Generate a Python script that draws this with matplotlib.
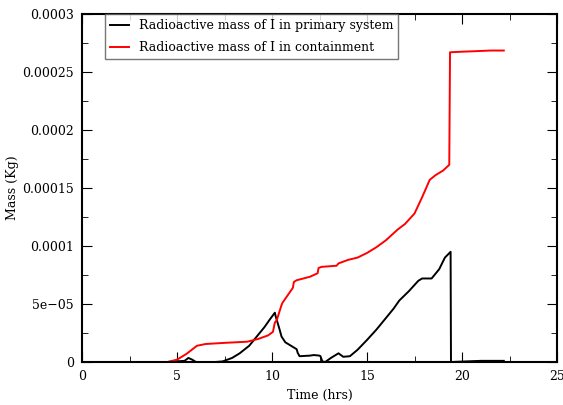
import numpy as np
import matplotlib
matplotlib.use('Agg')
import matplotlib.pyplot as plt
from matplotlib.ticker import MultipleLocator, FixedFormatter, FixedLocator

# Radioactive iodine mass in the primary system (hrs, kg)
t_primary = [0.0, 4.5, 5.4, 5.6, 5.8, 6.0, 7.0, 7.4, 7.9, 8.3, 8.8, 9.2, 9.6, 9.9,
             10.15, 10.2, 10.3, 10.4, 10.5, 10.7, 10.95, 11.3, 11.35, 11.45, 12.0,
             12.2, 12.5, 12.55, 12.65, 12.8, 13.1, 13.5, 13.75, 14.1, 14.5, 15.0,
             15.5, 16.0, 16.4, 16.7, 17.2, 17.7, 17.9, 18.4, 18.8, 19.1, 19.4,
             19.42, 20.2, 21.0, 22.2]
m_primary = [0.0, 0.0, 0.1e-5, 0.35e-5, 0.2e-5, 0.0, 0.0, 0.05e-5, 0.35e-5, 0.75e-5,
             1.4e-5, 2.2e-5, 3.0e-5, 3.7e-5, 4.25e-5, 3.9e-5, 3.35e-5, 2.8e-5, 2.2e-5,
             1.7e-5, 1.45e-5, 1.1e-5, 0.8e-5, 0.5e-5, 0.55e-5, 0.6e-5, 0.55e-5,
             0.5e-5, 0.05e-5, 0.0, 0.35e-5, 0.75e-5, 0.45e-5, 0.5e-5, 1.05e-5, 1.9e-5,
             2.8e-5, 3.8e-5, 4.6e-5, 5.3e-5, 6.1e-5, 7.0e-5, 7.2e-5, 7.2e-5, 8.0e-5,
             9.0e-5, 9.5e-5, 0.0, 0.05e-5, 0.1e-5, 0.1e-5]

# Radioactive iodine mass in the containment (hrs, kg)
t_contain = [0.0, 4.5, 5.0, 5.5, 6.05, 6.5, 7.5, 8.7, 9.3, 9.8, 10.05, 10.15, 10.25,
             10.5, 10.55, 11.1, 11.15, 11.3, 12.0, 12.4, 12.45, 12.6, 13.4, 13.5,
             14.0, 14.5, 15.0, 15.5, 16.0, 16.6, 17.0, 17.5, 17.9, 18.3, 18.6,
             19.0, 19.33, 19.37, 20.0, 20.8, 21.5, 22.2]
m_contain = [0.0, 0.0, 0.2e-5, 0.7e-5, 1.4e-5, 1.55e-5, 1.65e-5, 1.75e-5, 2.0e-5,
             2.3e-5, 2.6e-5, 3.4e-5, 3.6e-5, 4.9e-5, 5.1e-5, 6.4e-5, 6.9e-5, 7.05e-5,
             7.35e-5, 7.65e-5, 8.1e-5, 8.2e-5, 8.3e-5, 8.5e-5, 8.8e-5, 9.0e-5,
             9.4e-5, 9.9e-5, 10.5e-5, 11.4e-5, 11.9e-5, 12.8e-5, 14.2e-5, 15.7e-5,
             16.1e-5, 16.5e-5, 17.0e-5, 26.7e-5, 26.75e-5, 26.8e-5, 26.85e-5, 26.85e-5]

y_ticks = [0, 5e-5, 1e-4, 1.5e-4, 2e-4, 2.5e-4, 3e-4]
y_labels = ['0', '5e\u221205', '0.0001', '0.00015', '0.0002', '0.00025', '0.0003']

plt.rcParams['font.family'] = 'DejaVu Serif'
fig = plt.figure(figsize=(5.63, 4.05), dpi=100)
ax = fig.add_axes([82/563, 1 - 362/405, 475/563, 348/405])

ax.plot(t_primary, m_primary, color='black', lw=1.4,
        label='Radioactive mass of I in primary system')
ax.plot(t_contain, m_contain, color='#ff0000', lw=1.4,
        label='Radioactive mass of I in containment')

ax.set_xlim(0, 25)
ax.set_ylim(0, 0.0003)
ax.xaxis.set_major_locator(MultipleLocator(5))
ax.xaxis.set_minor_locator(MultipleLocator(2.5))
ax.yaxis.set_major_locator(FixedLocator(y_ticks))
ax.yaxis.set_major_formatter(FixedFormatter(y_labels))
ax.yaxis.set_minor_locator(MultipleLocator(2.5e-5))
ax.tick_params(which='both', direction='in', top=True, right=True, labelsize=9)
ax.tick_params(which='major', length=7, pad=6)
ax.tick_params(which='minor', length=4)
for s in ax.spines.values():
    s.set_linewidth(1.5)

ax.set_xlabel('Time (hrs)', fontsize=9)
ax.set_ylabel('Mass (Kg)', fontsize=9, labelpad=2)

leg = ax.legend(loc='upper left', bbox_to_anchor=(0.048, 1.0), borderaxespad=0,
                fancybox=False, fontsize=9, handlelength=1.5, labelspacing=0.75)
leg.get_frame().set_edgecolor('#555555')

fig.savefig('out.png', dpi=100)
